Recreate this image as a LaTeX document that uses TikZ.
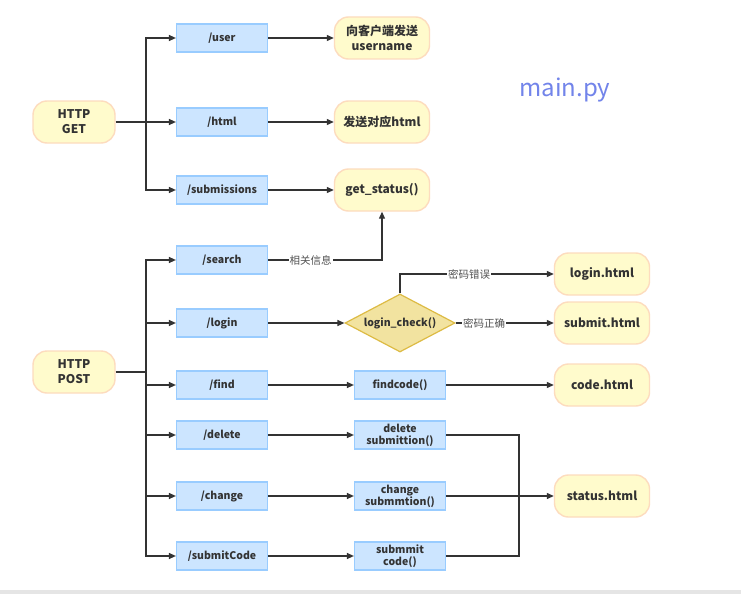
\documentclass[tikz,border=0pt]{standalone}
\usepackage{fontspec}
\setmainfont{Noto Sans CJK SC}
\usetikzlibrary{arrows.meta,shapes.geometric}
\definecolor{bfill}{HTML}{CCE5FF}
\definecolor{bline}{HTML}{99CCFF}
\definecolor{yfill}{HTML}{FFFBCC}
\definecolor{yline}{HTML}{FDDCBE}
\definecolor{dfill}{HTML}{F2E3A0}
\definecolor{dline}{HTML}{DDBB44}
\definecolor{ln}{HTML}{333333}
\definecolor{mainc}{HTML}{7284EA}
\tikzset{
  bbox/.style={draw=bline,fill=bfill,line width=1.2pt,minimum width=91pt,minimum height=28pt,inner sep=1pt,font=\fontsize{10.5}{12}\selectfont\bfseries,text=ln,align=center},
  ybox/.style={draw=yline,fill=yfill,line width=1.4pt,rounded corners=14pt,minimum width=95pt,minimum height=42pt,inner sep=1pt,font=\fontsize{12}{15}\selectfont\bfseries,text=ln,align=center},
  hbox/.style={ybox,minimum width=82pt},
  dia/.style={diamond,aspect=1.9,draw=dline,fill=dfill,line width=1.2pt,minimum width=110pt,minimum height=58pt,inner sep=0pt,font=\fontsize{10.5}{12}\selectfont\bfseries,text=ln},
  arr/.style={draw=ln,line width=1.2pt,-{Triangle[length=7pt,width=6pt]}},
  ln/.style={draw=ln,line width=1.2pt},
  lab/.style={fill=white,inner sep=1pt,font=\fontsize{10.5}{12}\selectfont,text=ln!85}
}
\begin{document}
\begin{tikzpicture}[x=1pt,y=-1pt]
\useasboundingbox (0,0) rectangle (741,594);
\fill[white] (0,0) rectangle (741,594);
\fill[black!10] (0,590) rectangle (741,594);
% GET
\node[hbox] (get) at (74,122) {HTTP\\GET};
\node[bbox] (user) at (222,38) {/user};
\node[bbox] (html) at (222,122) {/html};
\node[bbox] (subs) at (222,190) {/submissions};
\node[ybox] (r1) at (382,38) {向客户端发送\\username};
\node[ybox] (r2) at (382,122) {发送对应html};
\node[ybox] (gs) at (382,190) {get\_status()};
\node[text=mainc,font=\fontsize{24}{28}\selectfont] (mainpy) at (565,90) {main.py};
\coordinate (gbr) at (146,122);
\draw[ln] (get.east) -- (gbr);
\draw[arr] (gbr) |- (user);
\draw[arr] (gbr) -- (html);
\draw[arr] (gbr) |- (subs);
\draw[arr] (user) -- (r1);
\draw[arr] (html) -- (r2);
\draw[arr] (subs) -- (gs);
% POST
\node[hbox] (post) at (74,372) {HTTP\\POST};
\node[bbox] (search) at (222,260) {/search};
\node[bbox] (login) at (222,323) {/login};
\node[bbox] (find) at (222,385) {/find};
\node[bbox] (del) at (222,435) {/delete};
\node[bbox] (chg) at (222,496) {/change};
\node[bbox] (subc) at (222,556) {/submitCode};
\coordinate (pbr) at (146,372);
\draw[ln] (post.east) -- (pbr);
\draw[arr] (pbr) |- (search);
\draw[arr] (pbr) |- (login);
\draw[arr] (pbr) |- (find);
\draw[arr] (pbr) |- (del);
\draw[arr] (pbr) |- (chg);
\draw[arr] (pbr) |- (subc);
\draw[arr] (search.east) -| node[lab,pos=0.187]{相关信息} (gs.south);
\node[dia] (chk) at (400,323) {login\_check()};
\node[bbox] (fc) at (400,385) {findcode()};
\node[bbox] (df) at (400,435) {delete\\submittion()};
\node[bbox] (cf) at (400,496) {change\\submmtion()};
\node[bbox] (sf) at (400,556) {submmit\\code()};
\node[ybox] (lh) at (602,274) {login.html};
\node[ybox] (sh) at (602,323) {submit.html};
\node[ybox] (ch) at (602,385) {code.html};
\node[ybox] (st) at (602,496) {status.html};
\draw[arr] (login) -- (chk);
\draw[arr] (chk.north) |- node[lab,pos=0.725]{密码错误} (lh);
\draw[arr] (chk.east) -- node[lab,pos=0.29]{密码正确} (sh);
\draw[arr] (find) -- (fc);
\draw[arr] (fc) -- (ch);
\draw[arr] (del) -- (df);
\draw[arr] (chg) -- (cf);
\draw[arr] (subc) -- (sf);
\coordinate (mg) at (519,496);
\draw[ln] (df.east) -| (mg);
\draw[ln] (sf.east) -| (mg);
\draw[arr] (cf) -- (st);
\end{tikzpicture}
\end{document}
